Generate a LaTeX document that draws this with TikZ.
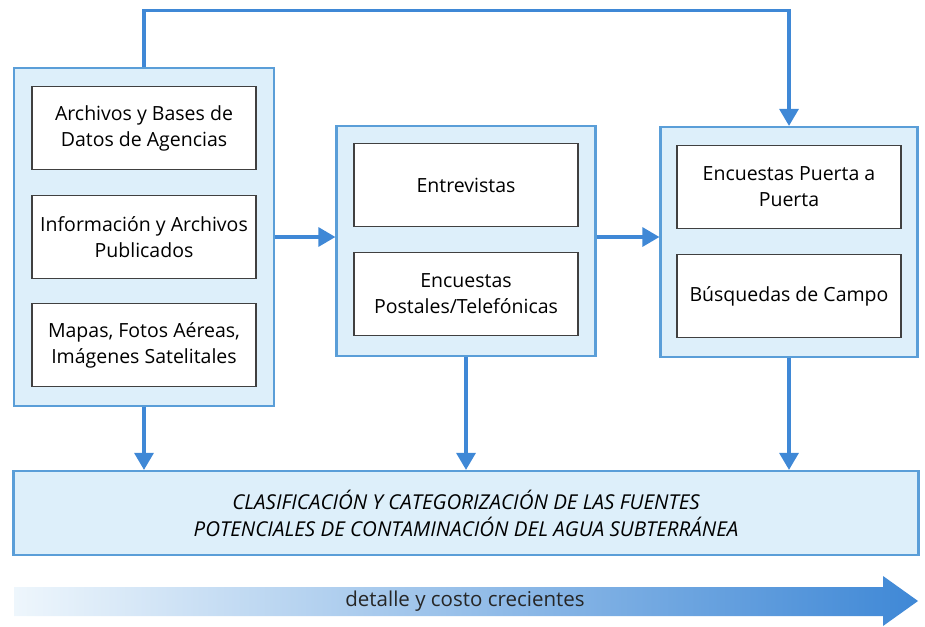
\documentclass[tikz,border=0pt]{standalone}
\usepackage{fontspec}
\setmainfont{Open Sans}
\usepackage{tikz}
\usetikzlibrary{arrows.meta, calc}

\definecolor{paleblue}{HTML}{DDEFFA}
\definecolor{frameblue}{HTML}{5A9ED8}
\definecolor{arrowblue}{HTML}{3F88D6}
\definecolor{fadeblue}{HTML}{EEF6FC}

\begin{document}
\begin{tikzpicture}[x=1pt, y=-1pt, >={Triangle[width=19pt,length=17pt]},
    group/.style={draw=frameblue, fill=paleblue, line width=2.2pt, inner sep=0pt},
    item/.style={draw=black!75, fill=white, line width=1.4pt, align=center, inner sep=0pt,
        minimum width=224pt, minimum height=83pt, font=\fontsize{19.5}{26}\selectfont},
    flow/.style={->, line width=3.2pt, arrowblue}]
    \useasboundingbox (0,0) rectangle (925,626);

    % Source groups
    \node[group, minimum width=260pt, minimum height=338pt] (desk) at (144,237) {};
    \node[group, minimum width=259pt, minimum height=230pt] (consult) at (466,241) {};
    \node[group, minimum width=257pt, minimum height=230pt] (field) at (789,242) {};
    \node[group, minimum width=905pt, minimum height=84pt,
          font=\fontsize{20.5}{27}\selectfont\itshape, align=center] (classify) at (466,513)
        {CLASIFICACIÓN Y CATEGORIZACIÓN DE LAS FUENTES\\
         POTENCIALES DE CONTAMINACIÓN DEL AGUA SUBTERRÁNEA};

    % Items
    \node[item] (archivos) at (144,128) {Archivos y Bases de\\Datos de Agencias};
    \node[item] (publicados) at (144,237) {Información y Archivos\\Publicados};
    \node[item] (mapas) at (144,345) {Mapas, Fotos Aéreas,\\Imágenes Satelitales};
    \node[item] (entrevistas) at (466,185) {Entrevistas};
    \node[item] (postales) at (466,294) {Encuestas\\Postales/Telefónicas};
    \node[item] (puerta) at (789,187) {Encuestas Puerta a\\Puerta};
    \node[item] (busquedas) at (789,296) {Búsquedas de Campo};

    % Connectors
    \draw[flow] (desk.north) -- ++(0,-56) -| (field.north);
    \draw[flow] (desk.east) -- (desk.east -| consult.west);
    \draw[flow] (desk.east -| consult.east) -- (desk.east -| field.west);
    \draw[flow] (desk.south) -- (desk.south |- classify.north);
    \draw[flow] (consult.south) -- (consult.south |- classify.north);
    \draw[flow] (field.south) -- (field.south |- classify.north);

    % Cost arrow
    \shade[left color=fadeblue, right color=arrowblue]
        (14,587) -- (883,587) -- (883,576) -- (918,601) -- (883,626) -- (883,616) -- (14,616) -- cycle;
    \node[font=\fontsize{20.5}{24}\selectfont, text=black!85] (cost) at (465,601) {detalle y costo crecientes};
\end{tikzpicture}
\end{document}
